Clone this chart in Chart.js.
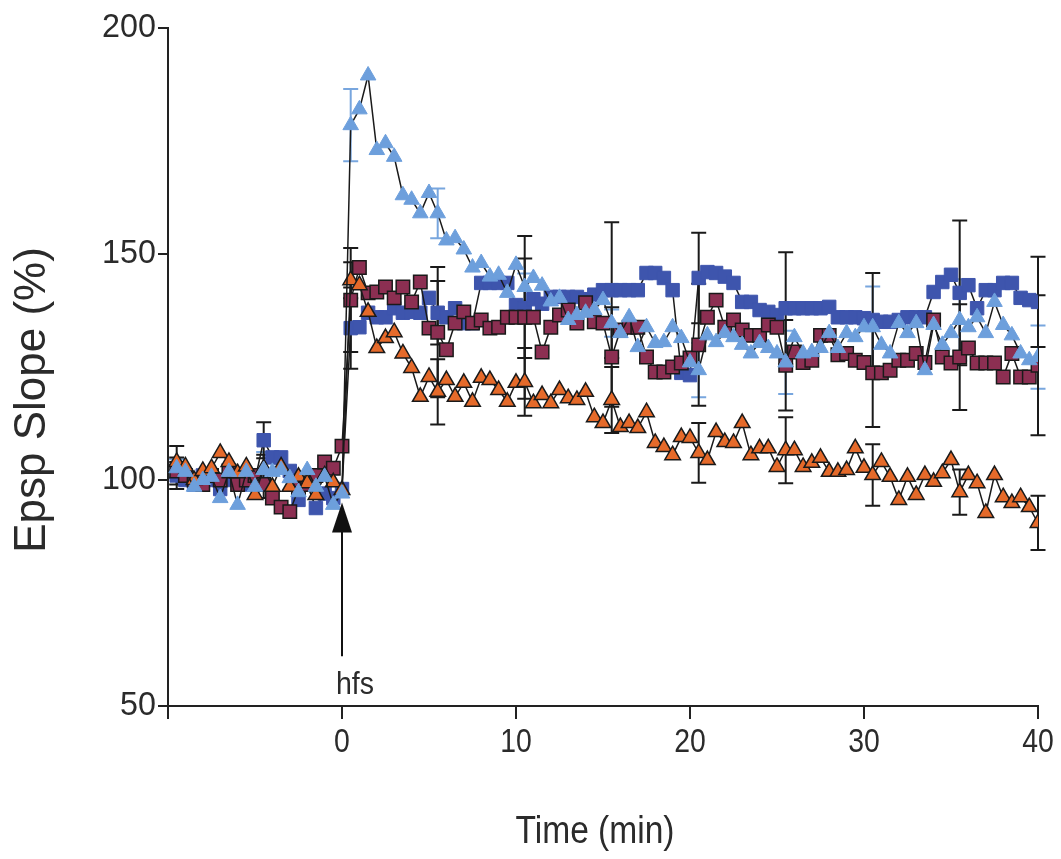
<!DOCTYPE html>
<html>
<head>
<meta charset="utf-8">
<script src="https://cdn.jsdelivr.net/npm/chart.js@4.4.1/dist/chart.umd.min.js"></script>
<style>
  html, body { margin: 0; padding: 0; background: #fff; }
  #wrap { width: 1061px; height: 859px; }
</style>
</head>
<body>
<div id="wrap"><canvas id="chart" width="1061" height="859"></canvas></div>
<script>
// sampling grid: one point every 0.5 min, from -9.5 to 40 min
const times = [];
for (let i = 0; i < 100; i++) times.push(-9.5 + i * 0.5);

const xTicks = [-10, 0, 10, 20, 30, 40];
const xTickLabels = ['', '0', '10', '20', '30', '40'];
const yTicks = [50, 100, 150, 200];
const xTitle = 'Time (min)';
const yTitle = 'Epsp Slope (%)';

// values (% of baseline)
const lightBlue = [
  102.6, 101.8, 98.5, 100, 100.7, 96, 101.8, 94.5, 101.8, 98.5,
  102.2, 101.8, 102.2, 100.4, 97.3, 102.2, 98.5, 100.7, 94.5, 97,
  178.5, 182, 189.5, 173, 174.5, 171.5, 163, 162, 159, 163.5,
  159, 153, 153.5, 151, 147, 148, 145, 145.4, 141.4, 147.6,
  142.7, 144.7, 143, 139.5, 140.3, 135.4, 136.5, 137, 137.6, 139.8,
  134.7, 132.5, 136, 129.4, 133.8, 130.3, 130.5, 133.8, 131.4, 126,
  124.3, 132, 130.5, 132.5, 131.6, 129.9, 128, 130.3, 129.2, 128,
  126, 131.6, 128, 128.3, 129.2, 132.5, 129.2, 132.5, 131.6, 133.8,
  133.8, 129.9, 128, 134.7, 132.5, 134.7, 124.3, 134.3, 129.9, 132.5,
  135.4, 133.8, 136, 132.5, 139.4, 134.3, 132, 128, 126.5, 127.2
];
const darkBlue = [
  101, 100, 99, 101, 100, 98, 100, 101, 99, 100,
  108.8, 105, 105, 102, 95.6, 99, 93.8, 97, 96, 98,
  133.6, 133.8, 137, 136, 136, 138, 137, 137.2, 137, 140.3,
  137, 136, 138, 134.7, 134.7, 143.6, 143.6, 143.6, 143.6, 138.7,
  138, 140, 139, 140.5, 140.5, 140.5, 140.5, 140, 141, 142,
  142, 142, 142, 142, 145.8, 145.8, 144.7, 142, 123.7, 123.2,
  144.7, 146, 145.8, 145, 143.6, 139.4, 139.4, 137.6, 137.2, 136.5,
  138, 138, 138, 138, 138, 138.3, 136, 136, 136, 135.8,
  135.4, 135, 135, 135.4, 136, 136, 136, 141.6, 143.8, 145.4,
  141.4, 143.1, 138, 142, 142, 143.6, 143.6, 140.3, 139.8, 139.4
];
const maroon = [
  102, 101, 100, 99, 101, 100, 102, 99, 100, 101,
  99, 96, 94, 93, 98, 99, 101, 104, 102.6, 107.5,
  139.8, 147, 141.4, 141.6, 142.7, 140.3, 142.7, 139.4, 143.8, 133.6,
  132.7, 128.8, 134.7, 137.2, 134.7, 135.4, 133.6, 133.8, 136, 136,
  136, 136, 128.3, 133.8, 136.5, 137.6, 134.7, 139.2, 135, 134.7,
  127.2, 133.2, 133.8, 133.8, 127.2, 123.9, 123.9, 125, 125.9, 127,
  129.9, 136, 139.8, 133.8, 135.4, 133.2, 132, 132, 134.3, 133.8,
  125.4, 128.3, 126, 126.5, 132, 132, 127.7, 128, 126.5, 126,
  123.7, 123.7, 124.3, 126.5, 126.5, 128, 126, 135.4, 127.2, 125.9,
  127.2, 129.2, 125.9, 125.9, 125.9, 122.8, 128, 122.8, 122.8, 125.4
];
const orange = [
  104, 103, 100, 102, 102.6, 106, 104, 101.5, 103, 96.7,
  102.6, 98.5, 103, 98.5, 100.7, 99.3, 96.7, 101, 99.5, 97.8,
  144.2, 143.1, 137.2, 129.2, 131.4, 132.7, 128, 124.8, 118.4, 122.8,
  119.5, 122.1, 118.4, 121.5, 117.3, 122.6, 122.1, 119.9, 117.3, 121.5,
  121.7, 117, 118.8, 117, 119.9, 118.1, 117.7, 119.5, 113.9, 112.6,
  117.7, 111.7, 112.6, 111.5, 115, 108.2, 107.3, 105.5, 109.5, 109.3,
  106, 104.4, 110.6, 108.4, 108.2, 112.6, 105.5, 107, 107, 102.9,
  106.6, 106.6, 102.9, 103.8, 104.9, 101.8, 101.8, 102.2, 107, 102.7,
  101.1, 104, 100.7, 95.6, 100.7, 96.7, 101.1, 99.6, 101.5, 104.4,
  97.3, 101.1, 99.3, 92.7, 101.1, 96.2, 94.9, 96.2, 94, 90.5
];

// error bars (one-sided size) at these times
const errTimes = [-9.5, -4.5, 0.5, 5.5, 10.5, 15.5, 20.5, 25.5, 30.5, 35.5, 40];
const lightBlueErr = [2, 4, 8, 5.5, 3, 3, 6, 7, 9, 9, 7];
const darkBlueErr = [3, 4, 9, 7, 11, 15, 10, 12.4, 10.4, 16, 10];
const maroonErr = [3, 3, 11.5, 14.4, 18, 11, 13.5, 10, 12, 11.7, 15.5];
const orangeErr = [3.5, 3, 4, 7.2, 7.5, 7.3, 6.6, 7.3, 6.8, 5, 6];

// stimulus marker
const hfsTime = 0;
const hfsArrow = [61, 95];   // shaft bottom, tip (y units)
const hfsLabelY = 54.5;

const FONT = '"Liberation Sans", Arial, sans-serif';

function pts(values) {
  return values.map((v, i) => ({ x: times[i], y: v }));
}

// Arial-Narrow look: squeeze Liberation Sans horizontally
function narrowText(ctx, text, x, y, size, align, squeeze, rotate) {
  ctx.save();
  ctx.translate(x, y);
  if (rotate) ctx.rotate(-Math.PI / 2);
  ctx.scale(squeeze, 1);
  ctx.font = size + 'px ' + FONT;
  ctx.fillStyle = '#2b2b2b';
  ctx.textAlign = align;
  ctx.textBaseline = 'middle';
  ctx.fillText(text, 0, 0);
  ctx.restore();
}

const errorBars = {
  id: 'errorBars',
  beforeDatasetsDraw(chart) {
    const { ctx, scales: { x, y } } = chart;
    ctx.save();
    chart.data.datasets.forEach(ds => {
      ctx.strokeStyle = ds.errColor;
      ctx.lineWidth = 2;
      errTimes.forEach((t, k) => {
        const i = times.indexOf(t);
        if (i < 0) return;
        const v = ds.data[i].y;
        const e = ds.errs[k];
        const px = x.getPixelForValue(t);
        const top = y.getPixelForValue(v + e);
        const bot = y.getPixelForValue(v - e);
        ctx.beginPath();
        ctx.moveTo(px, top); ctx.lineTo(px, bot);
        ctx.moveTo(px - 7.5, top); ctx.lineTo(px + 7.5, top);
        ctx.moveTo(px - 7.5, bot); ctx.lineTo(px + 7.5, bot);
        ctx.stroke();
      });
    });
    ctx.restore();
  }
};

const axisText = {
  id: 'axisText',
  afterDraw(chart) {
    const { ctx, chartArea, scales: { x, y } } = chart;
    xTicks.forEach((v, i) => {
      narrowText(ctx, xTickLabels[i], x.getPixelForValue(v), chartArea.bottom + 37, 33, 'center', 0.86);
    });
    yTicks.forEach(v => {
      narrowText(ctx, String(v), chartArea.left - 12, y.getPixelForValue(v), 34, 'right', 0.95);
    });
    narrowText(ctx, xTitle, 595, chartArea.bottom + 126, 39, 'center', 0.86);
    narrowText(ctx, yTitle, 33, y.getPixelForValue(117.7), 44, 'center', 1, true);
  }
};

const hfsMarker = {
  id: 'hfsMarker',
  afterDraw(chart) {
    const { ctx, scales: { x, y } } = chart;
    const px = x.getPixelForValue(hfsTime);
    const tip = y.getPixelForValue(hfsArrow[1]);
    const bottom = y.getPixelForValue(hfsArrow[0]);
    ctx.save();
    ctx.strokeStyle = '#111';
    ctx.fillStyle = '#111';
    ctx.lineWidth = 2;
    ctx.beginPath();
    ctx.moveTo(px, tip + 20); ctx.lineTo(px, bottom);
    ctx.stroke();
    ctx.beginPath();
    ctx.moveTo(px, tip);
    ctx.lineTo(px - 10, tip + 30);
    ctx.lineTo(px + 10, tip + 30);
    ctx.closePath();
    ctx.fill();
    ctx.restore();
    narrowText(ctx, 'hfs', px + 13, y.getPixelForValue(hfsLabelY), 31, 'center', 0.92);
  }
};

new Chart(document.getElementById('chart'), {
  type: 'line',
  data: {
    datasets: [
      {
        label: 'light blue', data: pts(lightBlue), order: 0,
        pointStyle: 'triangle', pointRadius: 9, pointBackgroundColor: '#6d9fdc',
        pointBorderColor: '#6d9fdc', pointBorderWidth: 1,
        borderColor: '#1a1a1a', borderWidth: 1.5,
        errs: lightBlueErr, errColor: '#78a6de'
      },
      {
        label: 'orange', data: pts(orange), order: 1,
        pointStyle: 'triangle', pointRadius: 9, pointBackgroundColor: '#e56a2a',
        pointBorderColor: '#1a1a1a', pointBorderWidth: 1.5,
        borderColor: '#1a1a1a', borderWidth: 1.5,
        errs: orangeErr, errColor: '#1a1a1a'
      },
      {
        label: 'maroon', data: pts(maroon), order: 2,
        pointStyle: 'rect', pointRadius: 9.5, pointBackgroundColor: '#8c2f52',
        pointBorderColor: '#1a1a1a', pointBorderWidth: 1.5,
        borderColor: '#1a1a1a', borderWidth: 1.5,
        errs: maroonErr, errColor: '#1a1a1a'
      },
      {
        label: 'dark blue', data: pts(darkBlue), order: 3,
        pointStyle: 'rect', pointRadius: 9.5, pointBackgroundColor: '#3e55ad',
        pointBorderColor: '#3e55ad', pointBorderWidth: 1,
        borderColor: '#1a1a1a', borderWidth: 1.5,
        errs: darkBlueErr, errColor: '#1a1a1a'
      }
    ]
  },
  options: {
    responsive: false,
    animation: false,
    layout: { padding: { top: 28, right: 23, left: 0, bottom: 0 } },
    plugins: { legend: { display: false }, tooltip: { enabled: false } },
    elements: { line: { tension: 0 } },
    scales: {
      x: {
        type: 'linear', min: -10, max: 40,
        afterBuildTicks: s => { s.ticks = xTicks.map(v => ({ value: v })); },
        afterFit: s => { s.height = 153; },
        ticks: { display: false },
        grid: { drawOnChartArea: false, drawTicks: true, tickLength: 13, color: '#222', lineWidth: 2 },
        border: { display: true, color: '#222', width: 2 }
      },
      y: {
        min: 50, max: 200,
        afterBuildTicks: s => { s.ticks = yTicks.map(v => ({ value: v })); },
        afterFit: s => { s.width = 168; },
        ticks: { display: false },
        grid: { drawOnChartArea: false, drawTicks: true, tickLength: 10, color: '#222', lineWidth: 2 },
        border: { display: true, color: '#222', width: 2 }
      }
    }
  },
  plugins: [errorBars, hfsMarker, axisText]
});
</script>
</body>
</html>
